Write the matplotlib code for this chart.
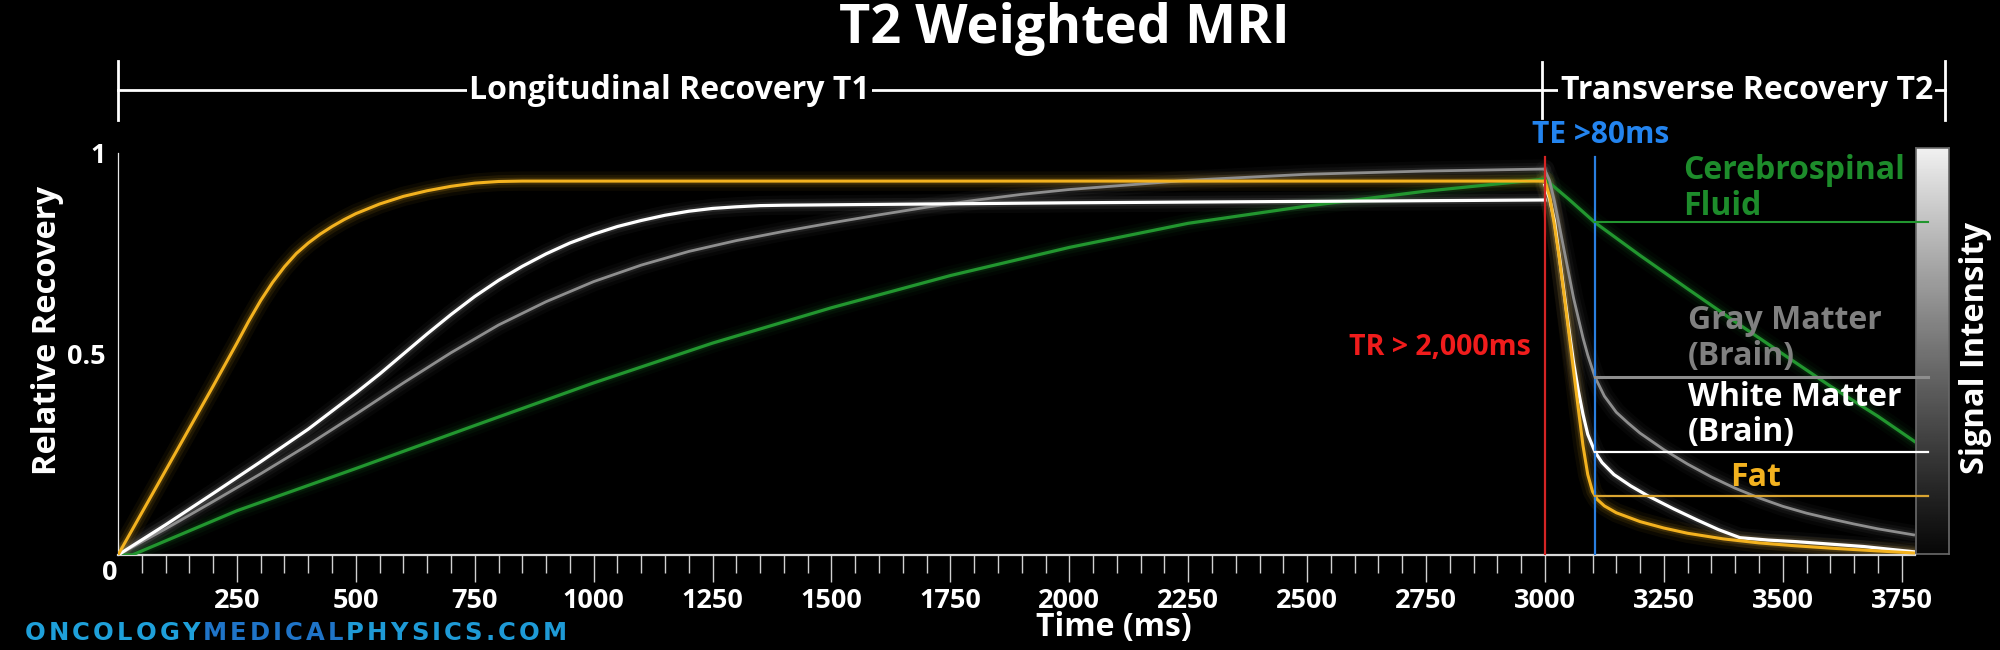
import matplotlib
matplotlib.use("Agg")
import matplotlib.pyplot as plt
import matplotlib.transforms as mtransforms
import numpy as np
from matplotlib.ticker import FixedLocator

plt.rcParams["font.family"] = ["Open Sans", "DejaVu Sans"]
plt.rcParams["font.weight"] = "bold"

# longitudinal recovery, 0 - 3000 ms
fat_t1_ms = [0, 50, 100, 150, 200, 250, 275, 300, 325, 350, 375, 400, 425, 450, 475, 500, 550, 600, 650,
             700, 750, 800, 850, 3000]
fat_t1 = [0, 0.105, 0.21, 0.315, 0.42, 0.527, 0.582, 0.633, 0.678, 0.717, 0.75, 0.776, 0.798, 0.817,
          0.834, 0.849, 0.873, 0.892, 0.906, 0.917, 0.925, 0.929, 0.93, 0.93]

wm_t1_ms = [0, 100, 200, 300, 400, 500, 550, 600, 650, 700, 750, 800, 850, 900, 950, 1000, 1050, 1100,
            1150, 1200, 1250, 1300, 1350, 1400, 2000, 3000]
wm_t1 = [0, 0.075, 0.153, 0.232, 0.313, 0.403, 0.45, 0.50, 0.55, 0.598, 0.643, 0.683, 0.718, 0.749,
         0.776, 0.798, 0.817, 0.832, 0.845, 0.855, 0.862, 0.866, 0.869, 0.870, 0.876, 0.883]

gm_t1_ms = [0, 100, 200, 300, 400, 500, 600, 700, 800, 900, 1000, 1100, 1200, 1300, 1400, 1500, 1600,
            1700, 1800, 1900, 2000, 2250, 2500, 2750, 3000]
gm_t1 = [0, 0.065, 0.133, 0.202, 0.274, 0.35, 0.428, 0.503, 0.572, 0.630, 0.680, 0.721, 0.755, 0.782,
         0.805, 0.826, 0.846, 0.865, 0.882, 0.897, 0.909, 0.932, 0.947, 0.955, 0.96]

csf_t1_ms = [0, 30, 250, 500, 750, 1000, 1250, 1500, 1750, 2000, 2250, 2500, 2750, 3000]
csf_t1 = [0, 0, 0.11, 0.215, 0.322, 0.428, 0.527, 0.615, 0.695, 0.765, 0.825, 0.868, 0.905, 0.935]

# transverse decay after TR
fat_t2_ms = [3000, 3010, 3020, 3030, 3040, 3050, 3060, 3070, 3080, 3090, 3100, 3110, 3125, 3150, 3200,
             3250, 3300, 3375, 3450, 3525, 3600, 3700, 3775]
fat_t2 = [0.93, 0.89, 0.82, 0.74, 0.65, 0.555, 0.46, 0.365, 0.272, 0.2, 0.158, 0.138, 0.122, 0.105,
          0.083, 0.067, 0.054, 0.04, 0.03, 0.023, 0.017, 0.01, 0.005]

wm_t2_ms = [3000, 3010, 3020, 3030, 3040, 3050, 3060, 3070, 3080, 3090, 3105, 3120, 3145, 3180, 3215,
            3270, 3320, 3365, 3410, 3470, 3530, 3600, 3670, 3775]
wm_t2 = [0.92, 0.885, 0.83, 0.745, 0.655, 0.565, 0.48, 0.41, 0.35, 0.30, 0.257, 0.23, 0.20, 0.172,
         0.148, 0.115, 0.087, 0.063, 0.043, 0.037, 0.033, 0.027, 0.021, 0.008]

gm_t2_ms = [3000, 3010, 3020, 3030, 3040, 3050, 3060, 3070, 3080, 3090, 3105, 3125, 3150, 3175, 3200,
            3250, 3300, 3350, 3400, 3450, 3500, 3550, 3600, 3650, 3700, 3775]
gm_t2 = [0.958, 0.93, 0.88, 0.82, 0.76, 0.70, 0.64, 0.59, 0.54, 0.497, 0.443, 0.395, 0.355, 0.328,
         0.303, 0.262, 0.226, 0.194, 0.166, 0.142, 0.121, 0.104, 0.09, 0.077, 0.065, 0.05]

csf_t2_ms = [3000, 3050, 3105, 3200, 3300, 3400, 3500, 3600, 3700, 3780]
csf_t2 = [0.935, 0.885, 0.827, 0.745, 0.662, 0.58, 0.50, 0.42, 0.345, 0.28]

TR = 3000
TE = 3105
te_signal = {"csf": 0.827, "gm": 0.443, "wm": 0.257, "fat": 0.147}
marker_end = 3805

x_major = [250, 500, 750, 1000, 1250, 1500, 1750, 2000, 2250, 2500, 2750, 3000, 3250, 3500, 3750]
x_minor = list(range(50, 3776, 50))

FAT = "#f3b21f"
WM = "#ffffff"
GM = "#8e8e8e"
CSF = "#22962f"

fig = plt.figure(figsize=(20, 6.5), dpi=100, facecolor="black")
ax = fig.add_axes([0.059, 0.1462, 0.8985, 0.6185])
ax.set_facecolor("black")
ax.patch.set_alpha(0)
ax.set_zorder(3)
ax.set_xlim(0, 3778)
ax.set_ylim(0, 1)


def glow_line(x, y, color, lw=2.3, glow=0.12):
    for w, a in ((14, glow * 0.35), (9, glow * 0.6), (5, glow)):
        ax.plot(x, y, color=color, lw=w, alpha=a, solid_capstyle="round", zorder=2)
    ax.plot(x, y, color=color, lw=lw, zorder=3)


glow_line(csf_t1_ms, csf_t1, CSF)
glow_line(csf_t2_ms, csf_t2, CSF)
glow_line(gm_t1_ms, gm_t1, GM, lw=2.0)
glow_line(gm_t2_ms, gm_t2, GM, lw=2.0)
glow_line(wm_t1_ms, wm_t1, WM, lw=2.3, glow=0.09)
glow_line(wm_t2_ms, wm_t2, WM, lw=2.3, glow=0.09)
glow_line(fat_t1_ms, fat_t1, FAT, lw=2.2, glow=0.15)
glow_line(fat_t2_ms, fat_t2, FAT, lw=2.2, glow=0.15)

# TR / TE lines
ax.plot([TR, TR], [0, 0.99], color="#d42424", lw=1.6, zorder=4)
ax.plot([TE, TE], [0, 0.99], color="#2a7fe0", lw=1.6, zorder=4)

# signal at TE
ax.plot([TE, marker_end], [te_signal["csf"]] * 2, color=CSF, lw=1.5, clip_on=False, zorder=5)
ax.plot([TE, marker_end], [te_signal["gm"]] * 2, color=GM, lw=2.2, clip_on=False, zorder=5)
ax.plot([TE, marker_end], [te_signal["wm"]] * 2, color=WM, lw=1.6, clip_on=False, zorder=5)
ax.plot([TE, marker_end], [te_signal["fat"]] * 2, color="#d9a431", lw=1.6, clip_on=False, zorder=5)

lab = dict(fontsize=23, fontweight="bold", ha="left", va="center", linespacing=1.1)
ax.text(3290, 0.912, "Cerebrospinal\nFluid", color="#1d8c2b", **lab)
ax.text(3300, 0.539, "Gray Matter\n(Brain)", color="#808080", **lab)
ax.text(3300, 0.348, "White Matter\n(Brain)", color="white", **lab)
ax.text(3389, 0.192, "Fat", color=FAT, **lab)

ax.text(2780, 0.517, "TR > 2,000ms", color="#f01c1c", fontsize=20.5, fontweight="bold",
        ha="center", va="center")
ax.text(3117, 1.045, "TE >80ms", color="#2384ef", fontsize=21.5, fontweight="bold",
        ha="center", va="center", clip_on=False)

# axes styling
for side in ("top", "right"):
    ax.spines[side].set_visible(False)
ax.spines["left"].set_color("#e8e8e8")
ax.spines["left"].set_linewidth(0.9)
ax.spines["bottom"].set_color("#d8d8d8")
ax.spines["bottom"].set_linewidth(1.6)

ax.xaxis.set_major_locator(FixedLocator(x_major))
ax.xaxis.set_minor_locator(FixedLocator(x_minor))
ax.tick_params(axis="x", which="major", length=19.5, width=1.0, color="#d0d0d0", pad=4,
               labelsize=19.5, labelcolor="white")
ax.tick_params(axis="x", which="minor", length=13, width=1.0, color="#d0d0d0")
ax.set_yticks([0.5, 1])
ax.set_yticklabels(["0.5", "1"])
ax.tick_params(axis="y", length=0, pad=9, labelsize=19.5, labelcolor="white")
ax.annotate("0", xy=(0, 0), xytext=(-6, -13), textcoords="offset points", ha="center", va="center",
            fontsize=19.5, fontweight="bold", color="white", annotation_clip=False)

# signal intensity bar
cax = fig.add_axes([0.958, 0.1477, 0.0165, 0.6246])
gradient = np.linspace(0.95, 0.05, 256) ** 1.15
cax.imshow(gradient[:, None], aspect="auto", cmap="gray", vmin=0, vmax=1)
cax.set_xticks([])
cax.set_yticks([])
for s in cax.spines.values():
    s.set_color("#6a6a6a")
    s.set_linewidth(1.2)

# brackets at the top
trans = mtransforms.blended_transform_factory(ax.transData, fig.transFigure)
bkw = dict(color="white", lw=2.0, transform=trans, clip_on=False)
ax.plot([0, 3841], [0.8615, 0.8615], **bkw)
ax.plot([0, 0], [0.8154, 0.906], **bkw)
ax.plot([2993, 2993], [0.8185, 0.9046], **bkw)
ax.plot([3841, 3841], [0.8154, 0.906], **bkw)
box = dict(facecolor="black", edgecolor="none", pad=1.5)
ax.text(1160, 0.8615, "Longitudinal Recovery T1", transform=trans, color="white", fontsize=23,
        fontweight="bold", ha="center", va="center", bbox=box)
ax.text(3033, 0.8615, "Transverse Recovery T2", transform=trans, color="white", fontsize=23,
        fontweight="bold", ha="left", va="center", bbox=box)

# titles and labels
fig.text(0.532, 0.955, "T2 Weighted MRI", color="white", fontsize=39, fontweight="bold",
         ha="center", va="center")
fig.text(0.024, 0.491, "Relative Recovery", color="white", fontsize=23.5, fontweight="bold",
         rotation=90, ha="center", va="center")
fig.text(0.988, 0.4646, "Signal Intensity", color="white", fontsize=23.5, fontweight="bold",
         rotation=90, ha="center", va="center")
fig.text(0.557, 0.035, "Time (ms)", color="white", fontsize=23, fontweight="bold",
         ha="center", va="center")

# site name, letter-spaced
site = "ONCOLOGYMEDICALPHYSICS.COM"
site_colors = ["#1ea0da"] * 8 + ["#1f74c8"] * 7 + ["#1e9ad6"] * 11
wm_kw = dict(fontsize=17.5, fontfamily="DejaVu Sans", fontweight="bold")
prev = fig.text(0.0125, 0.026, site[0], color=site_colors[0], va="center", **wm_kw)
for ch, col in zip(site[1:], site_colors[1:]):
    prev = ax.annotate(ch, xy=(1, 0), xycoords=prev, xytext=(2.2, 0), textcoords="offset points",
                       va="bottom", color=col, annotation_clip=False, **wm_kw)

fig.savefig("out.png", dpi=100, facecolor="black")
